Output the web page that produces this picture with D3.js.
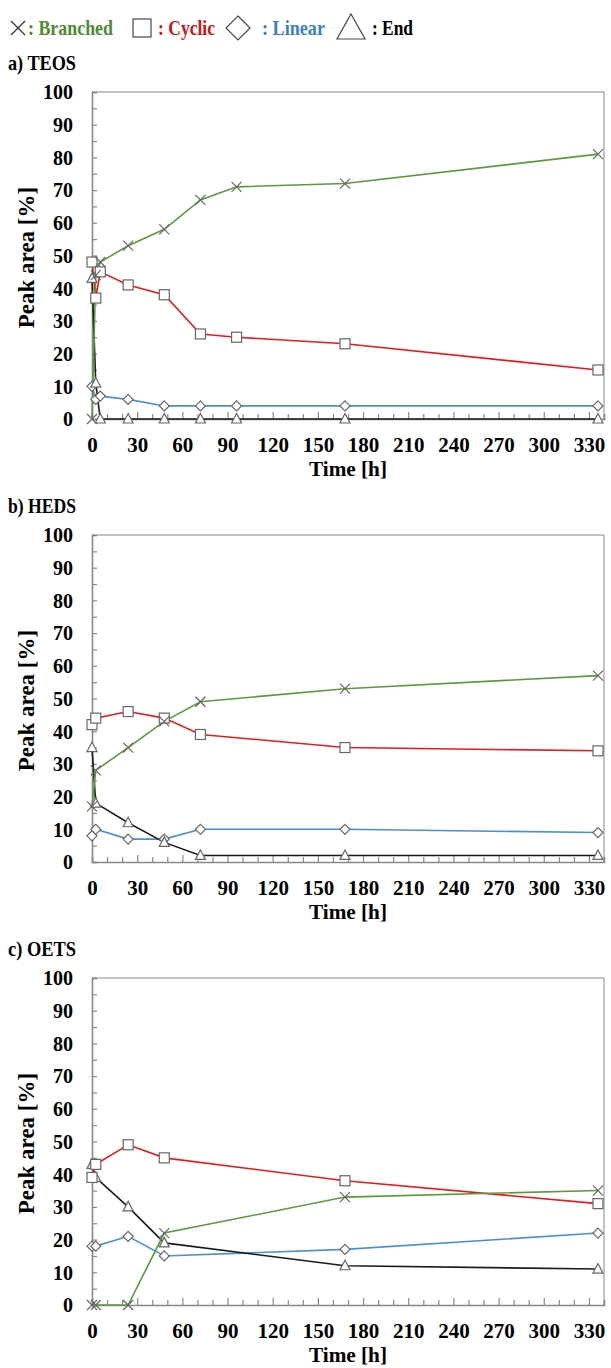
<!DOCTYPE html>
<html><head><meta charset="utf-8">
<script src="https://cdn.jsdelivr.net/npm/d3@7"></script>
<style>body{margin:0;background:#fff}svg{display:block}text{font-family:"Liberation Serif","Times New Roman",serif;font-weight:bold}</style>
</head><body>
<svg id="c" width="611" height="1368"></svg>
<script>
// ---- data ----
const panelTitles = ["a) TEOS", "b) HEDS", "c) OETS"];
const seriesNames = ["Branched", "Cyclic", "Linear", "End"];
const timesA = [0, 2.5, 5.5, 24, 48, 72, 96, 168, 336];
const teosBranched = [0, 44, 48, 53, 58, 67, 71, 72, 81];
const teosCyclic   = [48, 37, 45, 41, 38, 26, 25, 23, 15];
const teosLinear   = [10, 6, 7, 6, 4, 4, 4, 4, 4];
const teosEnd      = [43, 11, 0, 0, 0, 0, 0, 0, 0];
const timesB = [0, 2.5, 24, 48, 72, 168, 336];
const hedsBranched = [17, 28, 35, 43, 49, 53, 57];
const hedsCyclic   = [42, 44, 46, 44, 39, 35, 34];
const hedsLinear   = [8, 10, 7, 7, 10, 10, 9];
const hedsEnd      = [35, 18, 12, 6, 2, 2, 2];
const timesC = [0, 2.5, 24, 48, 168, 336];
const oetsBranched = [0, 0, 0, 22, 33, 35];
const oetsCyclic   = [39, 43, 49, 45, 38, 31];
const oetsLinear   = [18, 18, 21, 15, 17, 22];
const oetsEnd      = [43, 39, 30, 19, 12, 11];
const xTickLabels = [0, 30, 60, 90, 120, 150, 180, 210, 240, 270, 300, 330];
const yTickLabels = [0, 10, 20, 30, 40, 50, 60, 70, 80, 90, 100];

const panels = [
  {title: panelTitles[0], t: timesA, s: [teosBranched, teosCyclic, teosLinear, teosEnd]},
  {title: panelTitles[1], t: timesB, s: [hedsBranched, hedsCyclic, hedsLinear, hedsEnd]},
  {title: panelTitles[2], t: timesC, s: [oetsBranched, oetsCyclic, oetsLinear, oetsEnd]}
];
const lineColors = ["#5b9a3c", "#e8191e", "#4a8fd4", "#1a1a1a"];
const textColors = ["#4e8a34", "#c8161b", "#3d7fc4", "#000"];
const markerStroke = "#666";
const axisColor = "#888";

const svg = d3.select("#c");

function marker(g, type, x, y, r) {
  if (type === 0) {
    g.append("path").attr("d", `M${x-r},${y-r}L${x+r},${y+r}M${x-r},${y+r}L${x+r},${y-r}`)
      .attr("stroke", markerStroke).attr("stroke-width", 1.2).attr("fill", "none");
  } else if (type === 1) {
    g.append("rect").attr("x", x-r).attr("y", y-r).attr("width", 2*r).attr("height", 2*r)
      .attr("fill", "#fff").attr("stroke", markerStroke).attr("stroke-width", 1.2);
  } else if (type === 2) {
    g.append("path").attr("d", `M${x},${y-r}L${x+r},${y}L${x},${y+r}L${x-r},${y}Z`)
      .attr("fill", "#fff").attr("stroke", markerStroke).attr("stroke-width", 1.2);
  } else {
    g.append("path").attr("d", `M${x},${y-r*1.1}L${x+r},${y+r*0.8}L${x-r},${y+r*0.8}Z`)
      .attr("fill", "#fff").attr("stroke", markerStroke).attr("stroke-width", 1.2);
  }
}

// legend
const lg = svg.append("g");
const legendItems = [
  {mx: 18, tx: 28, w: 85},
  {mx: 142, tx: 158, w: 57},
  {mx: 238, tx: 262, w: 63},
  {mx: 351, tx: 372, w: 41}
];
legendItems.forEach((d, i) => {
  if (i === 0) {
    lg.append("path").attr("d", `M${d.mx-7},${28-7}L${d.mx+7},${28+7}M${d.mx-7},${28+7}L${d.mx+7},${28-7}`)
      .attr("stroke", "#333").attr("stroke-width", 1.3);
  } else if (i === 1) {
    lg.append("rect").attr("x", d.mx-9).attr("y", 19).attr("width", 18).attr("height", 18)
      .attr("fill", "#fff").attr("stroke", "#444").attr("stroke-width", 1.2);
  } else if (i === 2) {
    lg.append("path").attr("d", `M${d.mx},${16}L${d.mx+12},${28}L${d.mx},${40}L${d.mx-12},${28}Z`)
      .attr("fill", "#fff").attr("stroke", "#444").attr("stroke-width", 1.2);
  } else {
    lg.append("path").attr("d", `M${d.mx},${14}L${d.mx+14},${39}L${d.mx-14},${39}Z`)
      .attr("fill", "#fff").attr("stroke", "#444").attr("stroke-width", 1.2);
  }
  lg.append("text").attr("x", d.tx).attr("y", 35).attr("font-size", 21.5)
    .attr("textLength", d.w).attr("lengthAdjust", "spacingAndGlyphs")
    .attr("fill", textColors[i]).text(": " + seriesNames[i]);
});

const L = 92, R = 604, H = 327;
const tops = [92, 535, 978];

panels.forEach((p, pi) => {
  const top = tops[pi], bottom = top + H;
  const x = d3.scaleLinear().domain([0, 340]).range([L, R]);
  const y = d3.scaleLinear().domain([0, 100]).range([bottom, top]);
  const g = svg.append("g");

  g.append("text").attr("x", 8).attr("y", top - 22).attr("font-size", 21)
    .attr("textLength", 68).attr("lengthAdjust", "spacingAndGlyphs").text(p.title);

  // border top/right
  g.append("path").attr("d", `M${L},${top}H${R}V${bottom}`).attr("fill", "none")
    .attr("stroke", axisColor).attr("stroke-width", 1);

  // y axis
  const ya = d3.axisLeft(y).tickValues(d3.range(0, 101, 5)).tickSize(-5).tickFormat(d => yTickLabels.includes(d) ? d : "");
  const yg = g.append("g").attr("transform", `translate(${L},0)`).call(ya);
  yg.select(".domain").attr("stroke", axisColor).attr("stroke-width", 1.6);
  yg.selectAll(".tick line").attr("stroke", axisColor).attr("stroke-width", 1.2);
  yg.selectAll(".tick text").attr("font-size", 20).attr("fill", "#000")
    .attr("font-family", '"Liberation Serif",serif').attr("font-weight", "bold").attr("x", -19).attr("dy", "0.34em");

  // x axis
  const xa = d3.axisBottom(x).tickValues(d3.range(0, 331, 10)).tickSize(-5).tickFormat(d => xTickLabels.includes(d) ? d : "");
  const xg = g.append("g").attr("transform", `translate(0,${bottom})`).call(xa);
  xg.select(".domain").attr("stroke", axisColor).attr("stroke-width", 1.6);
  xg.selectAll(".tick line").attr("stroke", axisColor).attr("stroke-width", 1.2)
    .attr("y2", d => xTickLabels.includes(d) ? -7 : -5);
  xg.selectAll(".tick text").attr("font-size", 21).attr("fill", "#000")
    .attr("font-family", '"Liberation Serif",serif').attr("font-weight", "bold").attr("y", 33).attr("dy", "0");

  g.append("text").attr("x", 348).attr("y", bottom + 57).attr("text-anchor", "middle")
    .attr("font-size", 21).attr("textLength", 78).attr("lengthAdjust", "spacingAndGlyphs").text("Time [h]");
  g.append("text").attr("transform", `translate(34,${(top + bottom) / 2 + 2}) rotate(-90)`)
    .attr("text-anchor", "middle").attr("font-size", 23).text("Peak area [%]");

  const line = d3.line().x(d => x(d[0])).y(d => y(d[1]));
  const order = [2, 3, 1, 0];
  order.forEach(si => {
    const pts = p.t.map((t, i) => [t, p.s[si][i]]);
    g.append("path").attr("d", line(pts)).attr("fill", "none")
      .attr("stroke", lineColors[si]).attr("stroke-width", 1.6);
  });
  order.forEach(si => {
    p.t.forEach((t, i) => marker(g, si, x(t), y(p.s[si][i]), 5));
  });
});
</script>
</body></html>
